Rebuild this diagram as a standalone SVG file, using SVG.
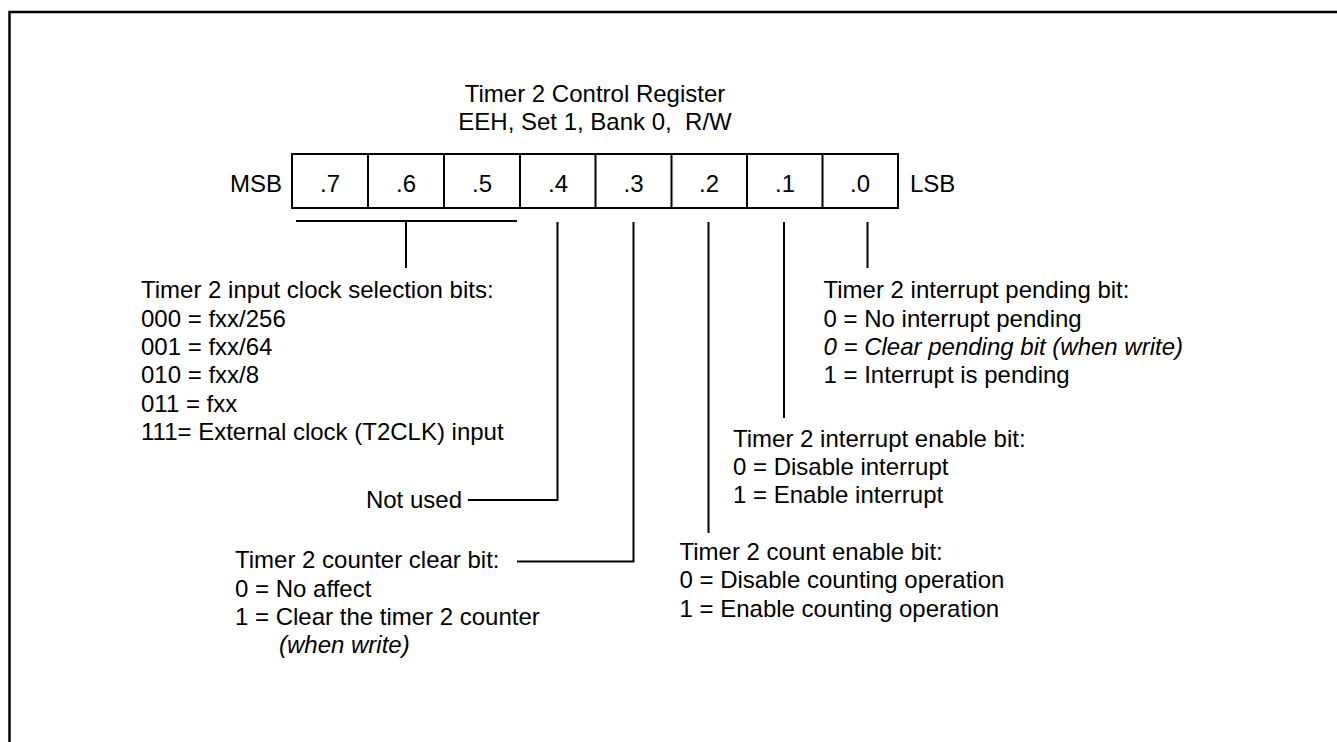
<svg xmlns="http://www.w3.org/2000/svg" width="1337" height="742" viewBox="0 0 1337 742">
<style>
text{font-family:"Liberation Sans",Arial,sans-serif;font-size:24px;fill:#000}
.c{text-anchor:middle}
.i{font-style:italic}
.ln{stroke:#000;stroke-width:2;fill:none}
.box{stroke:#000;stroke-width:2;fill:#fff}
</style>
<rect x="0" y="0" width="1337" height="742" fill="#fff"/>
<rect x="9.5" y="12" width="1400" height="800" fill="none" stroke="#000" stroke-width="2.5"/>
<g id="title">
<text class="c" x="595" y="102">Timer 2 Control Register</text>
<text class="c" x="595" y="130" xml:space="preserve">EEH, Set 1, Bank 0,  R/W</text>
</g>
<g id="register">
<text x="230" y="192">MSB</text>
<rect class="box" x="292" y="154" width="606" height="54"/>
<line class="ln" x1="368" y1="154" x2="368" y2="208"/>
<line class="ln" x1="444" y1="154" x2="444" y2="208"/>
<line class="ln" x1="520" y1="154" x2="520" y2="208"/>
<line class="ln" x1="595.5" y1="154" x2="595.5" y2="208"/>
<line class="ln" x1="671.5" y1="154" x2="671.5" y2="208"/>
<line class="ln" x1="747" y1="154" x2="747" y2="208"/>
<line class="ln" x1="822.5" y1="154" x2="822.5" y2="208"/>
<text class="c" x="330" y="192">.7</text>
<text class="c" x="406" y="192">.6</text>
<text class="c" x="482" y="192">.5</text>
<text class="c" x="558" y="192">.4</text>
<text class="c" x="633.5" y="192">.3</text>
<text class="c" x="709" y="192">.2</text>
<text class="c" x="785" y="192">.1</text>
<text class="c" x="860" y="192">.0</text>
<text x="910" y="192">LSB</text>
</g>
<g id="connectors">
<line class="ln" x1="296" y1="221" x2="517" y2="221"/>
<line class="ln" x1="406" y1="221" x2="406" y2="268"/>
<polyline class="ln" points="557.5,222 557.5,500 468,500"/>
<polyline class="ln" points="633.5,222 633.5,561.5 517,561.5"/>
<line class="ln" x1="708.5" y1="222" x2="708.5" y2="533"/>
<line class="ln" x1="784" y1="222" x2="784" y2="418"/>
<line class="ln" x1="867.5" y1="222" x2="867.5" y2="268"/>
</g>
<g id="bits765">
<text x="141" y="298.3">Timer 2 input clock selection bits:</text>
<text x="141" y="326.7">000 = fxx/256</text>
<text x="141" y="355">001 = fxx/64</text>
<text x="141" y="383.3">010 = fxx/8</text>
<text x="141" y="411.7">011 = fxx</text>
<text x="141" y="440">111= External clock (T2CLK) input</text>
</g>
<g id="bit4">
<text x="462" y="508.3" text-anchor="end">Not used</text>
</g>
<g id="bit3">
<text x="235" y="568.3">Timer 2 counter clear bit:</text>
<text x="235" y="596.7">0 = No affect</text>
<text x="235" y="625">1 = Clear the timer 2 counter</text>
<text class="i" x="279" y="653">(when write)</text>
</g>
<g id="bit2">
<text x="679.5" y="560">Timer 2 count enable bit:</text>
<text x="679.5" y="588.3">0 = Disable counting operation</text>
<text x="679.5" y="616.7">1 = Enable counting operation</text>
</g>
<g id="bit1">
<text x="733" y="446.7">Timer 2 interrupt enable bit:</text>
<text x="733" y="475">0 = Disable interrupt</text>
<text x="733" y="503.3">1 = Enable interrupt</text>
</g>
<g id="bit0">
<text x="823.5" y="298.3">Timer 2 interrupt pending bit:</text>
<text x="823.5" y="326.7">0 = No interrupt pending</text>
<text class="i" x="823.5" y="355">0 = Clear pending bit (when write)</text>
<text x="823.5" y="383.3">1 = Interrupt is pending</text>
</g>
</svg>
